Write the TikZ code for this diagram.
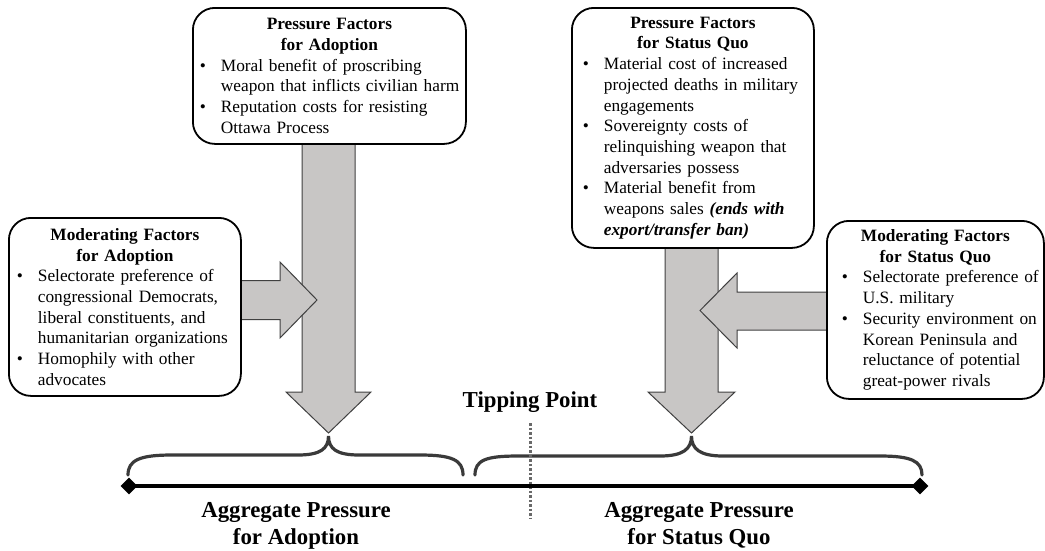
\documentclass[tikz,border=0pt]{standalone}
\usepackage{fontspec}
\setmainfont{Liberation Serif}
\usetikzlibrary{shapes.geometric,backgrounds}
\definecolor{arrowfill}{RGB}{200,198,197}
\definecolor{arrowline}{RGB}{64,64,64}
\definecolor{bracecol}{RGB}{58,58,58}
\definecolor{tipcol}{RGB}{105,105,105}
\newlength\bind
\newcommand\bitem[1]{\par\noindent\hangindent=\bind\hangafter=1\makebox[\bind][r]{\textbullet\hspace{15pt}}#1\par}
\newcommand\bodyfont{\fontsize{17.3}{20.7}\selectfont}
\newcommand\bigfont{\fontsize{22.8}{27}\selectfont\bfseries}
\tikzset{
  box/.style={draw=black, line width=1.8pt, rounded corners=22pt, fill=white,
    inner xsep=3pt, inner ysep=0pt, align=left, anchor=north west, font=\bodyfont},
  blockarrow/.style={fill=arrowfill, draw=arrowline, line width=1pt, line join=miter},
  bracepath/.style={draw=bracecol, line width=3.2pt, line cap=round},
  axisline/.style={line width=4.5pt, draw=black},
  endmark/.style={diamond, fill=black, inner sep=0pt, minimum size=17pt},
  tipline/.style={draw=tipcol, line width=3pt, dash pattern=on 2.5pt off 2pt},
  biglabel/.style={font=\bigfont, align=center, inner sep=0pt}
}
\begin{document}
\begin{tikzpicture}[x=1pt,y=-1pt]
\useasboundingbox (0,0) rectangle (1045,550);

% boxes
\node[box, text width=267pt, minimum height=136pt] (pa) at (192,7) {\setlength\bind{25pt}%
{\centering\textbf{Pressure Factors\\for Adoption}\par}%
\bitem{Moral benefit of proscribing\newline weapon that inflicts civilian harm}%
\bitem{Reputation costs for resisting\newline Ottawa Process}};

\node[box, text width=236pt, minimum height=240pt] (ps) at (571,7) {\setlength\bind{29pt}%
{\centering\textbf{Pressure Factors\\for Status Quo}\par}%
\bitem{Material cost of increased\newline projected deaths in military\newline engagements}%
\bitem{Sovereignty costs of\newline relinquishing weapon that\newline adversaries possess}%
\bitem{Material benefit from\newline weapons sales \textbf{\textit{(ends with\newline export/transfer ban)}}}};

\node[box, text width=226pt, minimum height=178pt] (ma) at (8,217) {\setlength\bind{26pt}%
{\centering\textbf{Moderating Factors\\for Adoption}\par}%
\bitem{Selectorate preference of\newline congressional Democrats,\newline liberal constituents, and\newline humanitarian organizations}%
\bitem{Homophily with other\newline advocates}};

\node[box, text width=211pt, minimum height=178pt] (ms) at (826,220) {\setlength\bind{33pt}%
{\centering\textbf{Moderating Factors\\for Status Quo}\par}%
\bitem{Selectorate preference of\newline U.S. military}%
\bitem{Security environment on\newline Korean Peninsula and\newline reluctance of potential\newline great-power rivals}};

% block arrows behind the boxes
\begin{pgfonlayer}{background}
\draw[blockarrow] (302,140) -- (302,392) -- (286,392) -- (328.5,433) -- (371,392) -- (355,392) -- (355,140) -- cycle;
\draw[blockarrow] (665,244) -- (665,392) -- (648,392) -- (691.5,433) -- (735,392) -- (718,392) -- (718,244) -- cycle;
\draw[blockarrow] (238,280.5) -- (280,280.5) -- (280,262) -- (317,300) -- (280,338) -- (280,319.5) -- (238,319.5) -- cycle;
\draw[blockarrow] (829,292) -- (737,292) -- (737,273) -- (700,310.5) -- (737,348) -- (737,330) -- (829,330) -- cycle;
\end{pgfonlayer}

% braces
\draw[bracepath] (128,475) .. controls (128,460) and (140,455) .. (172,455) -- (298,455)
  .. controls (320,455) and (328.5,449) .. (328.5,436)
  .. controls (328.5,449) and (337,455) .. (359,455) -- (420,455)
  .. controls (452,455) and (463,460) .. (463,475);
\draw[bracepath] (475,475) .. controls (475,460) and (486,456) .. (518,456) -- (660,456)
  .. controls (683,456) and (691.5,449) .. (691.5,436)
  .. controls (691.5,449) and (700,456) .. (723,456) -- (880,456)
  .. controls (911,456) and (922,461) .. (922,475);

% tipping point
\node[font=\bigfont, inner sep=0pt, anchor=base] (tp) at (530,407) {Tipping Point};
\coordinate (tpa) at (530,423);
\coordinate (tpb) at (530,518);
\draw[tipline] (tpa) -- (tpb);

% axis
\node[endmark] (dl) at (129,486) {};
\node[endmark] (dr) at (920,486) {};
\draw[axisline] (dl.center) -- (dr.center);

% bottom labels
\node[biglabel, anchor=north] (aga) at (296,502) {Aggregate Pressure\\for Adoption};
\node[biglabel, anchor=north] (ags) at (699,502) {Aggregate Pressure\\for Status Quo};
\end{tikzpicture}
\end{document}
